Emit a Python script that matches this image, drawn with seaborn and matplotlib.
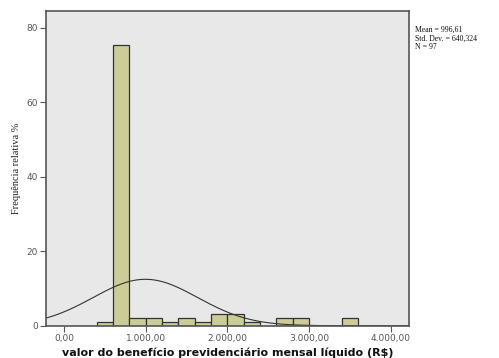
import numpy as np
import pandas as pd
import matplotlib
matplotlib.use("Agg")
import matplotlib.pyplot as plt
from matplotlib.ticker import FuncFormatter
import seaborn as sns

# ---- data ----
bin_left = [400, 600, 800, 1000, 1200, 1400, 1600, 1800, 2000, 2200, 2600, 2800, 3400]
percent = [1.03, 75.26, 2.06, 2.06, 1.03, 2.06, 1.03, 3.09, 3.09, 1.03, 2.06, 2.06, 2.06]
bin_width = 200
mean_val = 996.61
std_val = 640.324
n_val = 97
x_ticks = [0, 1000, 2000, 3000, 4000]
y_ticks = [0, 20, 40, 60, 80]
x_label = "valor do benefício previdenciário mensal líquido (R$)"
y_label = "Frequência relativa %"

sns.set_style("white")
fig = plt.figure(figsize=(4.99, 3.58), dpi=100)
ax = fig.add_axes([46/499, 1 - 325.7/358, (409-46)/499, (325.7-11)/358])
ax.set_facecolor("#e8e8e8")

df = pd.DataFrame({"x": np.array(bin_left) + bin_width/2, "w": percent})
sns.histplot(data=df, x="x", weights="w", binwidth=bin_width, binrange=(400, 3600),
             color="#cccc99", edgecolor="#333333", linewidth=0.9, alpha=1, ax=ax)

xlim = (-220, 4223)
xs = np.linspace(xlim[0], xlim[1], 400)
ys = 100 * bin_width * np.exp(-0.5*((xs-mean_val)/std_val)**2) / (std_val*np.sqrt(2*np.pi))
sns.lineplot(x=xs, y=ys, color="#333333", linewidth=0.8, ax=ax)

ax.set_xlim(*xlim)
ax.set_ylim(0, 84.5)
ax.set_xticks(x_ticks)
ax.set_yticks(y_ticks)

def br(v, pos):
    s = f"{v:,.2f}"
    return s.replace(",", "X").replace(".", ",").replace("X", ".")
ax.xaxis.set_major_formatter(FuncFormatter(br))

ax.tick_params(axis="both", direction="out", length=4, width=0.8, color="#555555",
               labelsize=6.5, labelcolor="#555555", pad=2, bottom=True, left=True)
for sp in ax.spines.values():
    sp.set_color("#555555")
    sp.set_linewidth(1.2)

ax.set_xlabel(x_label, fontsize=8, fontweight="bold", color="#111111", labelpad=3)
ax.set_ylabel(y_label, fontsize=7.5, family="Liberation Serif", color="#222222", labelpad=4)

fig.text(415/499, 1 - 26/358, f"Mean = 996,61\nStd. Dev. = 640,324\nN = {n_val}",
         fontsize=5.6, family="Liberation Serif", va="top", ha="left",
         linespacing=1.1, color="#111111")

fig.savefig("out.png", dpi=100)
